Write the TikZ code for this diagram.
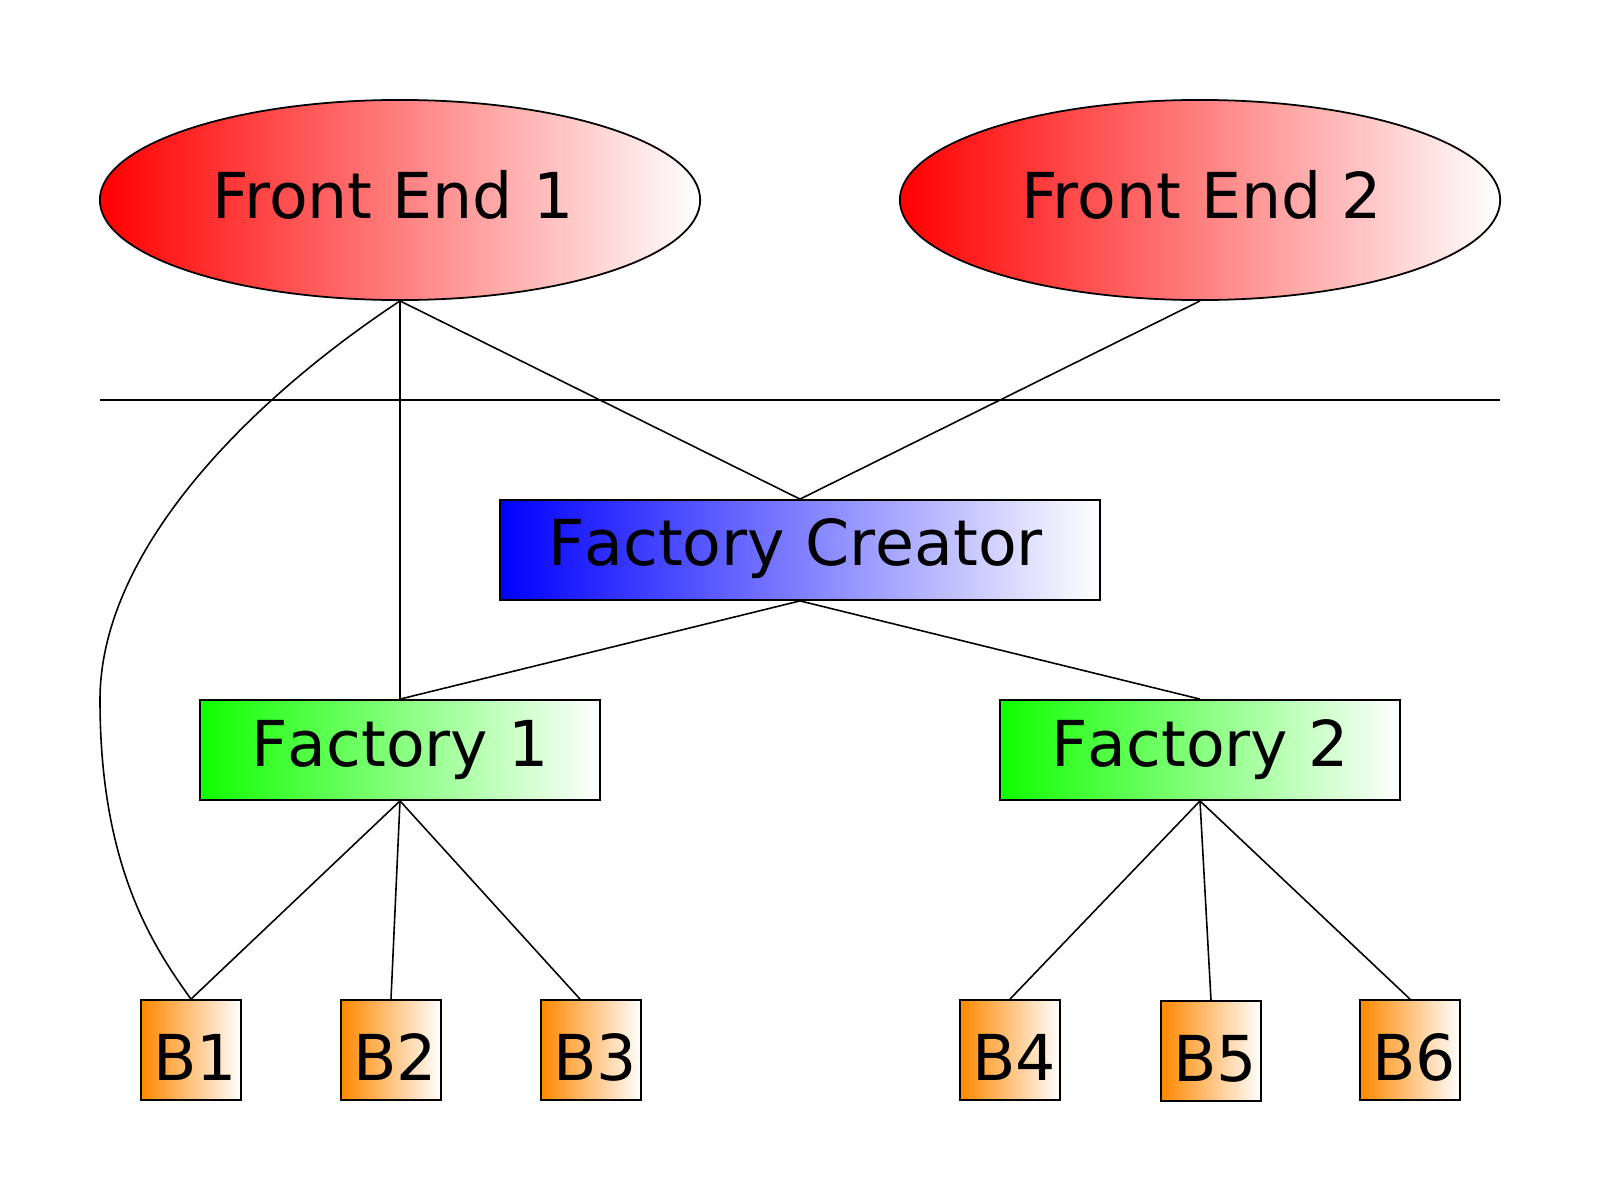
\documentclass[tikz,border=0pt]{standalone}
\usepackage{fontspec}
\setmainfont{DejaVu Sans}[Kerning=Off]
\newfontfamily\kernfont{DejaVu Sans}[Kerning=On]
\usetikzlibrary{shapes.geometric,calc}
\definecolor{myorange}{RGB}{255,136,0}
\definecolor{mygreen}{RGB}{16,255,0}
\begin{document}
\begin{tikzpicture}[x=0.01cm,y=-0.01cm,
  base/.style={font=\fontsize{18pt}{21pt}\selectfont, inner sep=0pt, draw=black, line width=0.5pt, text depth=0pt},
  tshift/.style={execute at end node={\hspace*{#1}}},
  fe/.style={base, font=\kernfont\fontsize{18pt}{21pt}\selectfont, ellipse, minimum width=6cm, minimum height=2cm, left color=red, right color=white, text height=0.36cm},
  fc/.style={base, rectangle, minimum width=6cm, minimum height=1cm, left color=blue, right color=white, text height=0.30cm},
  fac/.style={base, rectangle, minimum width=4cm, minimum height=1cm, left color=mygreen, right color=white, text height=0.32cm},
  bb/.style={base, rectangle, minimum width=1cm, minimum height=1cm, left color=myorange, right color=white, text height=0.60cm, tshift=-0.08cm},
  conn/.style={line width=0.45pt, black}]
\useasboundingbox (0,0) rectangle (1600,1200);

\node[fe, tshift=0.14cm] (fe1) at (400,200) {Front End 1};
\node[fe, tshift=-0.03cm] (fe2) at (1200,200) {Front End 2};

\coordinate (sepL) at (100,400);
\coordinate (sepR) at (1500,400);
\draw[conn] (sepL) -- (sepR);

\node[fc, tshift=0.09cm] (fc) at (800,550) {Factory Creator};
\node[fac] (f1) at (400,750) {Factory 1};
\node[fac] (f2) at (1200,750) {Factory 2};

\node[bb] (b1) at (191,1050) {B1};
\node[bb] (b2) at (391,1050) {B2};
\node[bb] (b3) at (591,1050) {B3};
\node[bb] (b4) at (1010,1050) {B4};
\node[bb] (b5) at (1211,1051) {B5};
\node[bb] (b6) at (1410,1050) {B6};

\coordinate (bend) at (100,700);
\coordinate (b3in) at ($(b3.north)+(-11,0)$);

\draw[conn] (fe1.south) -- (f1.north);
\draw[conn] (fe1.south) -- (fc.north);
\draw[conn] (fe2.south) -- (fc.north);
\draw[conn] (fe1.south) .. controls (250,400) and (100,550) .. (bend)
  .. controls (100,865) and (152,945) .. (b1.north);
\draw[conn] (fc.south) -- (f1.north);
\draw[conn] (fc.south) -- (f2.north);
\draw[conn] (f1.south) -- (b1.north);
\draw[conn] (f1.south) -- (b2.north);
\draw[conn] (f1.south) -- (b3in);
\draw[conn] (f2.south) -- (b4.north);
\draw[conn] (f2.south) -- (b5.north);
\draw[conn] (f2.south) -- (b6.north);
\end{tikzpicture}
\end{document}
